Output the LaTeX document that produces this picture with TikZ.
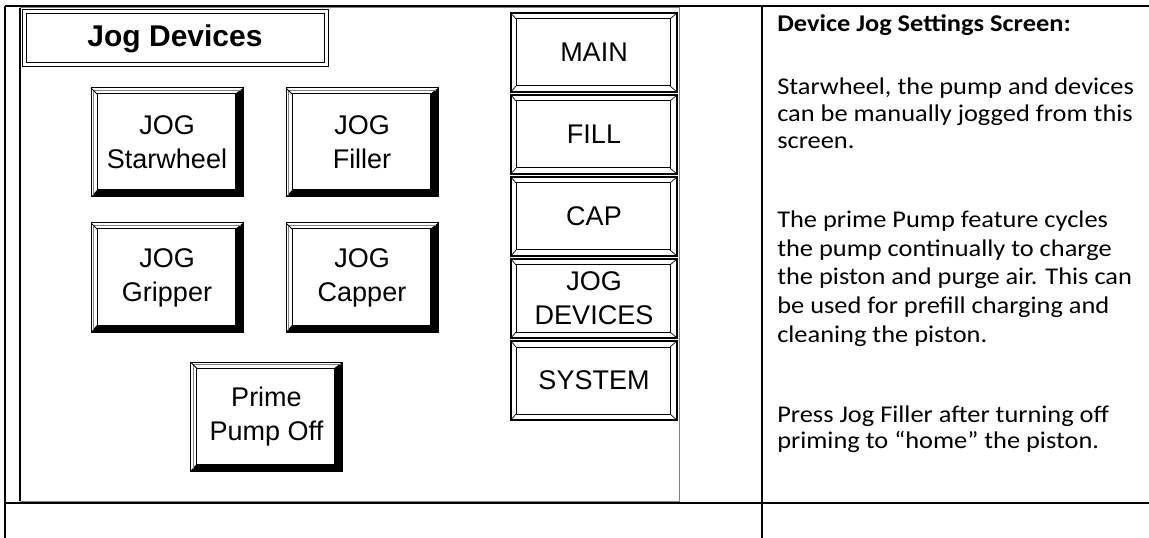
\documentclass[tikz,border=0pt]{standalone}
\usepackage{fontspec}
\setmainfont{Liberation Sans}
\newfontfamily\notefont[FakeStretch=1.1]{Carlito}
\usetikzlibrary{positioning}

\tikzset{
  rule/.style={line width=1.2pt},
  titlebox/.style={draw, double, line width=0.75pt, double distance=2.25pt,
    minimum width=226.5pt, minimum height=39.75pt, inner sep=0pt,
    font=\bfseries\fontsize{22.5pt}{26pt}\selectfont},
  jogkey/.style={draw, line width=0.75pt, minimum width=114pt, minimum height=81.75pt,
    inner sep=0pt, outer sep=0pt, align=center,
    font=\fontsize{20.25pt}{25.5pt}\selectfont},
  navkey/.style={draw, line width=1pt, minimum width=124.5pt, minimum height=59.25pt,
    inner sep=0pt, outer sep=0pt, align=center,
    font=\fontsize{20.25pt}{25.5pt}\selectfont},
  note/.style={anchor=base west, inner sep=0pt,
    font=\notefont\fontsize{18pt}{21pt}\selectfont}
}

\begin{document}
\begin{tikzpicture}[x=0.75pt, y=-0.75pt]
\useasboundingbox (0,0) rectangle (1149,538);

% table
\draw[rule] (5,6) -- (1149,6);
\draw[rule] (5,6) -- (5,538);
\draw[rule] (762,6) -- (762,538);
\draw[rule] (5,503) -- (1149,503);

% screen
\draw[gray, line width=0.75pt] (20,8) rectangle (679,501);
\draw[line width=1.2pt] (20,8) -- (20,501);

\node[titlebox] (screentitle) at (175,38.5) {Jog Devices};

\node[jogkey] (starwheel) at (167,142.5) {JOG\\Starwheel};
\node[jogkey, right=32.25pt of starwheel] (filler) {JOG\\Filler};
\node[jogkey, below=19.5pt of starwheel] (gripper) {JOG\\Gripper};
\node[jogkey, below=19.5pt of filler] (capper) {JOG\\Capper};
\node[jogkey] (prime) at (266.5,416.5) {Prime\\Pump Off};

\foreach \b in {starwheel,filler,gripper,capper,prime}{
  \fill ([shift={(-8,6)}]\b.north east) -- (\b.north east) -- (\b.south east)
    -- (\b.south west) -- ([shift={(6,-7)}]\b.south west)
    -- ([shift={(-8,-7)}]\b.south east) -- cycle;
  \draw[line width=0.75pt] ([shift={(6,6)}]\b.north west) rectangle ([shift={(-8,-7)}]\b.south east);
  \draw[gray, line width=0.5pt] ([shift={(2.5,2.5)}]\b.north west) -- ([shift={(-2,2.5)}]\b.north east)
    ([shift={(2.5,2.5)}]\b.north west) -- ([shift={(2.5,-2)}]\b.south west);
  \draw[line width=0.6pt] (\b.north west) -- ++(6,6);
}

\node[navkey] (navmain) at (594,52.5) {MAIN};
\node[navkey, below=2.25pt of navmain] (navfill) {FILL};
\node[navkey, below=2.25pt of navfill] (navcap) {CAP};
\node[navkey, below=2.25pt of navcap] (navjog) {JOG\\DEVICES};
\node[navkey, below=2.25pt of navjog] (navsystem) {SYSTEM};

\foreach \b in {navmain,navfill,navcap,navjog,navsystem}{
  \draw[line width=0.75pt] ([shift={(5,6)}]\b.north west) rectangle ([shift={(-7,-6)}]\b.south east);
  \draw[line width=0.5pt] (\b.north west) -- ++(5,6) (\b.north east) -- ++(-7,6)
    (\b.south west) -- ++(5,-6) (\b.south east) -- ++(-7,-6);
}

% notes
\node[note] (notetitle) at (777,31.5) {\bfseries Device Jog Settings Screen:};
\node[note] (line1) at (777,95) {Starwheel, the pump and devices};
\node[note] (line2) at (777,122) {can be manually jogged from this};
\node[note] (line3) at (777,149) {screen.};
\node[note] (line4) at (777,228) {The prime Pump feature cycles};
\node[note] (line5) at (777,256.5) {the pump continually to charge};
\node[note] (line6) at (777,285) {the piston and purge air. This can};
\node[note] (line7) at (777,313.5) {be used for prefill charging and};
\node[note] (line8) at (777,342) {cleaning the piston.};
\node[note] (line9) at (777,422) {Press Jog Filler after turning off};
\node[note] (line10) at (777,448.5) {priming to “home” the piston.};
\end{tikzpicture}
\end{document}
